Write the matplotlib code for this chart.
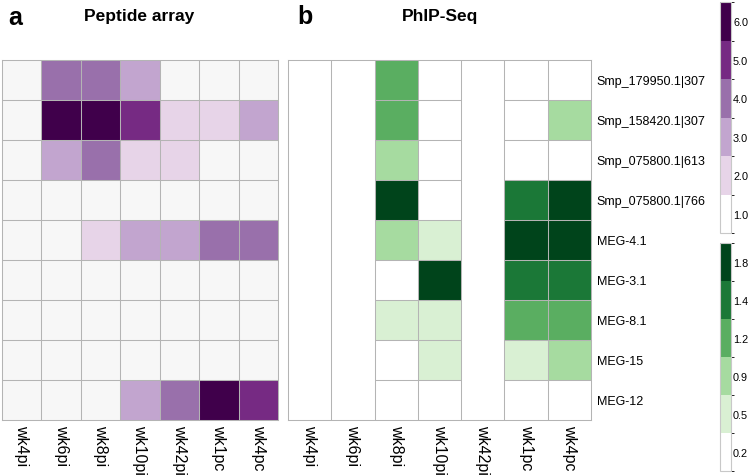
import numpy as np
import matplotlib
matplotlib.use("Agg")
import matplotlib.pyplot as plt
from matplotlib.colors import ListedColormap, BoundaryNorm
from matplotlib.cm import ScalarMappable

plt.rcParams['font.family'] = ['Liberation Sans', 'DejaVu Sans']

# data
timepoints = ['wk4pi', 'wk6pi', 'wk8pi', 'wk10pi', 'wk42pi', 'wk1pc', 'wk4pc']
peptides = ['Smp_179950.1|307', 'Smp_158420.1|307', 'Smp_075800.1|613',
            'Smp_075800.1|766', 'MEG-4.1', 'MEG-3.1', 'MEG-8.1', 'MEG-15', 'MEG-12']

# peptide array score (1..6)
array_scores = [
    [1, 4, 4, 3, 1, 1, 1],
    [1, 6, 6, 5, 2, 2, 3],
    [1, 3, 4, 2, 2, 1, 1],
    [1, 1, 1, 1, 1, 1, 1],
    [1, 1, 2, 3, 3, 4, 4],
    [1, 1, 1, 1, 1, 1, 1],
    [1, 1, 1, 1, 1, 1, 1],
    [1, 1, 1, 1, 1, 1, 1],
    [1, 1, 1, 3, 4, 6, 5],
]

# PhIP-Seq score, nan = not measured
nan = np.nan
phip_scores = [
    [nan, nan, 1.2, 0.2, nan, 0.2, 0.2],
    [nan, nan, 1.2, 0.2, nan, 0.2, 0.9],
    [nan, nan, 0.9, 0.2, nan, 0.2, 0.2],
    [nan, nan, 1.8, 0.2, nan, 1.4, 1.8],
    [nan, nan, 0.9, 0.5, nan, 1.8, 1.8],
    [nan, nan, 0.2, 1.8, nan, 1.4, 1.4],
    [nan, nan, 0.5, 0.5, nan, 1.2, 1.2],
    [nan, nan, 0.2, 0.5, nan, 0.5, 0.9],
    [nan, nan, 0.2, 0.2, nan, 0.2, 0.2],
]

array_levels = ['1.0', '2.0', '3.0', '4.0', '5.0', '6.0']
phip_levels = ['0.2', '0.5', '0.9', '1.2', '1.4', '1.8']
phip_bounds = [0.0, 0.35, 0.7, 1.05, 1.3, 1.6, 2.0]

purples = ['#f7f7f7', '#e7d4e8', '#c2a5cf', '#9970ab', '#762a83', '#40004b']
greens = ['#ffffff', '#d9f0d3', '#a6dba0', '#5aae61', '#1b7837', '#00441b']
grid_col = '#b4b4b4'
grid_lw = 0.75

fig = plt.figure(figsize=(7.5, 4.77), dpi=100)

ax_a = fig.add_axes([2 / 750, 1 - 421 / 477, 276 / 750, 360 / 477])
ax_b = fig.add_axes([288 / 750, 1 - 421 / 477, 303 / 750, 360 / 477])

nr, nc = len(peptides), len(timepoints)

# panel a
A = np.array(array_scores, dtype=float)
ax_a.pcolormesh(A, cmap=ListedColormap(purples),
                norm=BoundaryNorm(np.arange(0.5, 7.5, 1), 6), edgecolors='none')
ax_a.vlines(np.arange(1, nc), 0, nr, color=grid_col, lw=grid_lw)
ax_a.hlines(np.arange(1, nr), 0, nc, color=grid_col, lw=grid_lw)

# panel b: missing columns have no row lines
B = np.array(phip_scores, dtype=float)
ax_b.pcolormesh(np.ma.masked_invalid(B), cmap=ListedColormap(greens),
                norm=BoundaryNorm(phip_bounds, 6), edgecolors='none')
ax_b.vlines(np.arange(1, nc), 0, nr, color=grid_col, lw=grid_lw)
for c in range(nc):
    if not np.all(np.isnan(B[:, c])):
        ax_b.hlines(np.arange(1, nr), c, c + 1, color=grid_col, lw=grid_lw)

for ax in (ax_a, ax_b):
    ax.set_xlim(0, nc)
    ax.set_ylim(nr, 0)
    ax.set_xticks(np.arange(nc) + 0.5)
    ax.set_xticklabels(timepoints, rotation=-90, fontsize=11.5)
    ax.tick_params(length=0, pad=3)
    for s in ax.spines.values():
        s.set_color(grid_col)
        s.set_linewidth(grid_lw)

ax_a.set_yticks([])
ax_b.yaxis.tick_right()
ax_b.set_yticks(np.arange(nr) + 0.5)
ax_b.set_yticklabels(peptides, fontsize=9)
ax_b.tick_params(axis='y', pad=4)

fig.text(8 / 750, 1 - 18 / 477, 'a', fontsize=18, fontweight='bold', va='center')
fig.text(297 / 750, 1 - 17 / 477, 'b', fontsize=18, fontweight='bold', va='center')
fig.text(139 / 750, 1 - 17 / 477, 'Peptide array', fontsize=12.5, fontweight='bold',
         ha='center', va='center')
fig.text(440 / 750, 1 - 17 / 477, 'PhIP-Seq', fontsize=12.5, fontweight='bold',
         ha='center', va='center')

# colorbars
def draw_cbar(rect, colors, labels):
    cax = fig.add_axes(rect)
    sm = ScalarMappable(norm=BoundaryNorm(np.arange(-0.5, 6.5, 1), 6),
                        cmap=ListedColormap(['#ffffff'] + colors[1:]))
    cb = fig.colorbar(sm, cax=cax, ticks=np.arange(6))
    cb.ax.set_yticklabels(labels, fontsize=7.8)
    cb.ax.tick_params(length=0, pad=1.5)
    cb.outline.set_edgecolor('#c8c8c8')
    cb.outline.set_linewidth(0.8)

draw_cbar([720 / 750, 1 - 234 / 477, 11 / 750, 231 / 477], purples, array_levels)
draw_cbar([720 / 750, 1 - 472 / 477, 11 / 750, 228 / 477], greens, phip_levels)

fig.savefig('out.png', dpi=100)
